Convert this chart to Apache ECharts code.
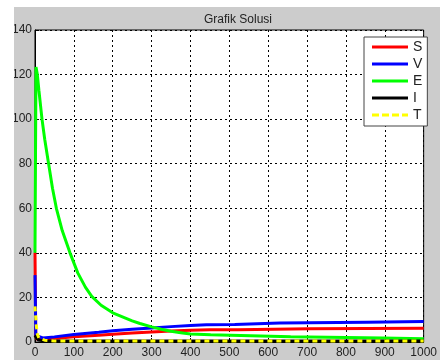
<!DOCTYPE html>
<html>
<head>
<meta charset="utf-8">
<script src="https://cdn.jsdelivr.net/npm/echarts@6/dist/echarts.min.js"></script>
<style>html,body{margin:0;padding:0;background:#fff}#c{width:440px;height:360px}</style>
</head>
<body>
<div id="c"></div>
<script>
// Series values: [time, value] pairs
var tS = [0, 2, 5, 10, 30, 50, 100, 164, 200, 250, 300, 350, 400, 450, 522, 526, 706, 710, 1000];
var S  = [40, 3, 1.2, 1.0, 1.2, 1.6, 2.4, 3.0, 3.5, 4.0, 4.5, 4.9, 5.3, 5.5, 5.5, 5.8, 5.9, 6.2, 6.2];
var tV = [0, 2, 5, 20, 50, 100, 164, 200, 250, 300, 350, 400, 441, 514, 518, 630, 634, 854, 858, 1000];
var V  = [30, 3, 2.4, 1.8, 2.3, 3.4, 4.4, 5.0, 5.7, 6.3, 6.9, 7.4, 7.7, 7.9, 8.4, 8.5, 8.8, 8.9, 9.2, 9.2];
var tE = [0, 2.5, 6, 10, 18, 25, 35, 45, 55, 70, 90, 110, 130, 146, 170, 200, 250, 270, 300, 325, 350, 375, 400, 452, 456, 658, 662, 896, 900, 1000];
var E  = [40, 123.4, 120, 113, 100, 91, 80, 69, 60, 50, 40, 31, 24.5, 20.5, 16.5, 13.1, 9.5, 8.3, 6.8, 5.7, 4.8, 4.2, 3.6, 3.2, 2.7, 2.4, 1.9, 1.8, 1.5, 1.5];
var tI = [0, 3, 8, 20, 1000];
var I  = [3, 2, 1, 0.5, 0.4];
var tT = [0, 3, 6, 10, 15, 25, 50, 1000];
var T  = [16, 8, 3.5, 1.8, 1.2, 0.8, 0.5, 0.4];
var names = ['S', 'V', 'E', 'I', 'T'];
var xTicks = [0, 1000, 100];
var yTicks = [0, 140, 20];

function pairs(t, v) { return t.map(function (x, i) { return [x, v[i]]; }); }

var chart = echarts.init(document.getElementById('c'), null, {renderer: 'canvas'});
var font = 'Liberation Sans, Arial, sans-serif';
var lab = {color: '#222', fontSize: 12, fontFamily: font};
function mk(name, t, v, color, dash) {
  return {
    name: name, type: 'line', data: pairs(t, v), showSymbol: false, symbol: 'none',
    animation: false, clip: true,
    lineStyle: {color: color, width: 3, type: dash ? [5, 4] : 'solid'},
    itemStyle: {color: color}
  };
}
var solidIcon = 'path://M0 0H36V3H0Z';
var dashIcon = 'path://M0 0H7V3H0Z M10 0H17V3H10Z M20 0H27V3H20Z M30 0H36V3H30Z';
chart.setOption({
  backgroundColor: '#cccccc',
  animation: false,
  title: {
    text: 'Grafik Solusi', left: 233, top: 9, textAlign: 'center',
    textStyle: {fontSize: 12, fontWeight: 'normal', color: '#222', fontFamily: font}
  },
  grid: {left: 35, right: 8, top: 30, bottom: 18, show: true, backgroundColor: '#fff', borderColor: '#000', borderWidth: 1},
  xAxis: {
    type: 'value', min: xTicks[0], max: xTicks[1], interval: xTicks[2],
    axisLine: {show: true, lineStyle: {color: '#000'}},
    axisTick: {show: true, inside: true, length: 4, lineStyle: {color: '#000'}},
    axisLabel: Object.assign({margin: 5, showMaxLabel: true, formatter: function (v) { return String(v); }}, lab),
    splitLine: {show: true, lineStyle: {color: '#000', width: 1, type: [2, 3]}}
  },
  yAxis: {
    type: 'value', min: yTicks[0], max: yTicks[1], interval: yTicks[2],
    axisLine: {show: true, lineStyle: {color: '#000'}},
    axisTick: {show: true, inside: true, length: 4, lineStyle: {color: '#000'}},
    axisLabel: Object.assign({margin: 3, formatter: function (v) { return String(v); }}, lab),
    splitLine: {show: true, lineStyle: {color: '#000', width: 1, type: [2, 3]}}
  },
  legend: {
    orient: 'vertical', left: 364, top: 37,
    data: names.map(function (n) { return {name: n, icon: n === 'T' ? dashIcon : solidIcon}; }),
    itemWidth: 36, itemHeight: 3, itemGap: 3, symbolKeepAspect: false,
    padding: [3, 5, 4, 8],
    backgroundColor: '#fff', borderColor: '#444', borderWidth: 1,
    textStyle: {fontSize: 14, lineHeight: 14, color: '#222', fontFamily: font}
  },
  graphic: [
    {type: 'rect', left: 0, top: 0, shape: {width: 14, height: 360}, style: {fill: '#fff'}, z: 100},
    {type: 'rect', left: 0, top: 0, shape: {width: 440, height: 7}, style: {fill: '#fff'}, z: 100}
  ],
  series: [
    mk('S', tS, S, '#ff0000', false),
    mk('V', tV, V, '#0000ff', false),
    mk('E', tE, E, '#00ff00', false),
    mk('I', tI, I, '#000000', false),
    mk('T', tT, T, '#ffff00', true)
  ]
});
</script>
</body>
</html>
